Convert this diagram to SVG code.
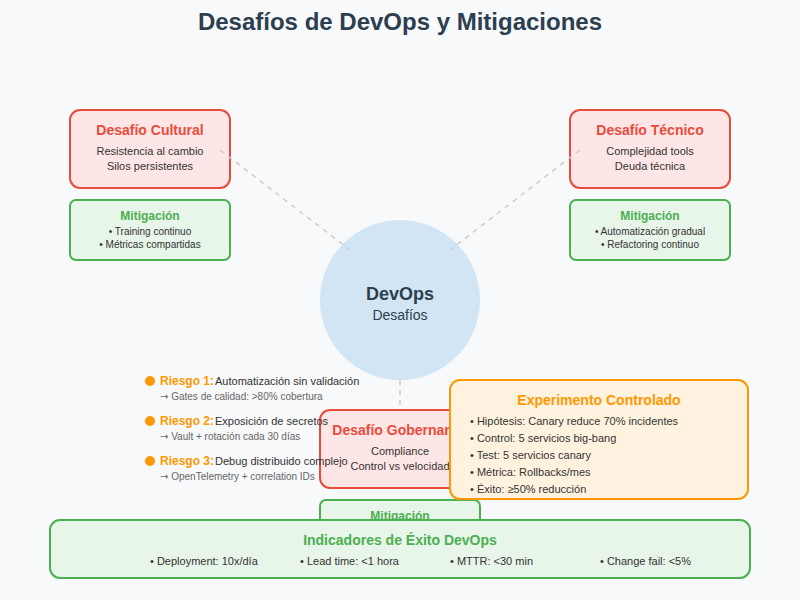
<svg xmlns="http://www.w3.org/2000/svg" width="800" height="600" viewBox="0 0 800 600">
<style>
text{font-family:"Liberation Sans",Arial,sans-serif}
.bg{fill:#f8f9fa}
.ttl{font-size:24px;font-weight:bold;fill:#2c3e50;text-anchor:middle}
.chal{fill:#ffe6e6;stroke:#e74c3c;stroke-width:2}
.chalT{font-size:14px;font-weight:bold;fill:#e74c3c;text-anchor:middle}
.body{font-size:11px;fill:#333;text-anchor:middle}
.mit{fill:#e8f5e9;stroke:#4caf50;stroke-width:2}
.mitT{font-size:12px;font-weight:bold;fill:#4caf50;text-anchor:middle}
.mitI{font-size:10px;fill:#333;text-anchor:middle}
.conn{stroke:#ccc;stroke-width:1.5;stroke-dasharray:5,5;fill:none}
.rk{font-size:12px;font-weight:bold;fill:#ff9800}
.rd{font-size:11px;fill:#333}
.rs{font-size:10px;fill:#666}
.ar{font-family:"DejaVu Sans",sans-serif}
.exp{fill:#fff3e0;stroke:#ff9800;stroke-width:2}
.expT{font-size:14px;font-weight:bold;fill:#ff9800;text-anchor:middle}
.expI{font-size:11px;fill:#333}
.indT{font-size:14px;font-weight:bold;fill:#4caf50;text-anchor:middle}
.indI{font-size:11px;fill:#333}
</style>
<rect class="bg" x="0" y="0" width="800" height="600"/>
<text class="ttl" x="400" y="30">Desafíos de DevOps y Mitigaciones</text>

<g id="center">
<circle cx="400" cy="300" r="80" fill="#d1e5f4"/>
<text x="400" y="300" style="font-size:18px;font-weight:bold;fill:#2c3e50;text-anchor:middle">DevOps</text>
<text x="400" y="320" style="font-size:14px;fill:#2c3e50;text-anchor:middle">Desafíos</text>
</g>

<g id="cultural">
<rect class="chal" x="70" y="110" width="160" height="78" rx="10"/>
<text class="chalT" x="150" y="135">Desafío Cultural</text>
<text class="body" x="150" y="155">Resistencia al cambio</text>
<text class="body" x="150" y="170">Silos persistentes</text>
</g>
<g id="cultural-mit">
<rect class="mit" x="70" y="200" width="160" height="60" rx="6"/>
<text class="mitT" x="150" y="220">Mitigación</text>
<text class="mitI" x="150" y="235">• Training continuo</text>
<text class="mitI" x="150" y="248">• Métricas compartidas</text>
</g>

<g id="tecnico">
<rect class="chal" x="570" y="110" width="160" height="78" rx="10"/>
<text class="chalT" x="650" y="135">Desafío Técnico</text>
<text class="body" x="650" y="155">Complejidad tools</text>
<text class="body" x="650" y="170">Deuda técnica</text>
</g>
<g id="tecnico-mit">
<rect class="mit" x="570" y="200" width="160" height="60" rx="6"/>
<text class="mitT" x="650" y="220">Mitigación</text>
<text class="mitI" x="650" y="235">• Automatización gradual</text>
<text class="mitI" x="650" y="248">• Refactoring continuo</text>
</g>

<g id="gobernanza">
<rect class="chal" x="320" y="410" width="160" height="78" rx="10"/>
<text class="chalT" x="400" y="435">Desafío Gobernanza</text>
<text class="body" x="400" y="455">Compliance</text>
<text class="body" x="400" y="470">Control vs velocidad</text>
</g>
<g id="gobernanza-mit">
<rect class="mit" x="320" y="500" width="160" height="60" rx="6"/>
<text class="mitT" x="400" y="520">Mitigación</text>
</g>

<g id="connectors">
<line class="conn" x1="220" y1="150" x2="350" y2="250"/>
<line class="conn" x1="580" y1="150" x2="450" y2="250"/>
<line class="conn" x1="400" y1="380" x2="400" y2="410"/>
</g>

<g id="riesgos">
<circle cx="150" cy="381" r="5" fill="#ff9800"/>
<text class="rk" x="160" y="385">Riesgo 1:</text>
<text class="rd" x="215" y="385">Automatización sin validación</text>
<text class="rs" x="160" y="400"><tspan class="ar">→</tspan> Gates de calidad: &gt;80% cobertura</text>
<circle cx="150" cy="421" r="5" fill="#ff9800"/>
<text class="rk" x="160" y="425">Riesgo 2:</text>
<text class="rd" x="215" y="425">Exposición de secretos</text>
<text class="rs" x="160" y="440"><tspan class="ar">→</tspan> Vault + rotación cada 30 días</text>
<circle cx="150" cy="461" r="5" fill="#ff9800"/>
<text class="rk" x="160" y="465">Riesgo 3:</text>
<text class="rd" x="215" y="465">Debug distribuido complejo</text>
<text class="rs" x="160" y="480"><tspan class="ar">→</tspan> OpenTelemetry + correlation IDs</text>
</g>

<g id="experimento">
<rect class="exp" x="450" y="380" width="298" height="119" rx="10"/>
<text class="expT" x="599" y="405">Experimento Controlado</text>
<text class="expI" x="470" y="425">• Hipótesis: Canary reduce 70% incidentes</text>
<text class="expI" x="470" y="442">• Control: 5 servicios big-bang</text>
<text class="expI" x="470" y="459">• Test: 5 servicios canary</text>
<text class="expI" x="470" y="476">• Métrica: Rollbacks/mes</text>
<text class="expI" x="470" y="493">• Éxito: ≥50% reducción</text>
</g>

<g id="indicadores">
<rect class="mit" x="50" y="520" width="700" height="58" rx="10"/>
<text class="indT" x="400" y="545">Indicadores de Éxito DevOps</text>
<text class="indI" x="150" y="565">• Deployment: 10x/día</text>
<text class="indI" x="300" y="565">• Lead time: &lt;1 hora</text>
<text class="indI" x="450" y="565">• MTTR: &lt;30 min</text>
<text class="indI" x="600" y="565">• Change fail: &lt;5%</text>
</g>
</svg>
